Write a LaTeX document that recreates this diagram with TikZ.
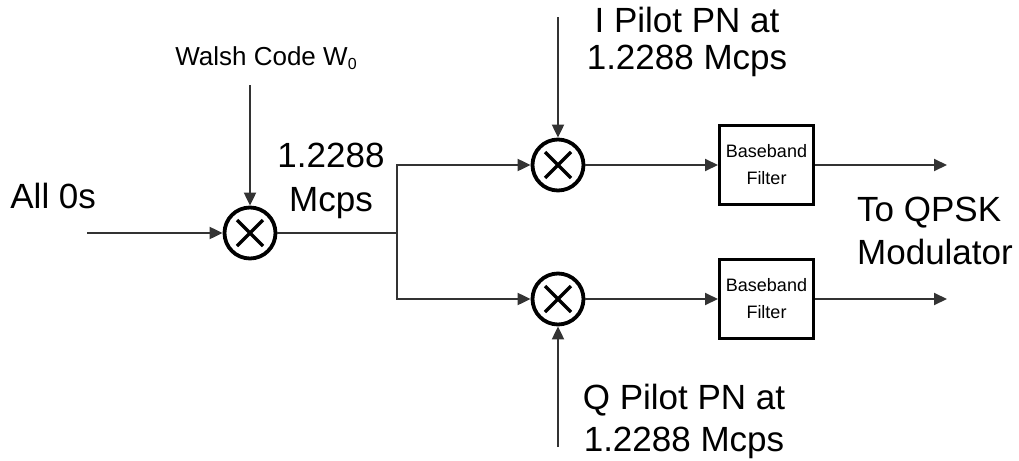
\documentclass[tikz,border=0pt]{standalone}
\usepackage{fontspec}
\setmainfont{Liberation Sans}
\usetikzlibrary{arrows.meta}

\begin{document}
\begin{tikzpicture}[
  x=0.5pt, y=-0.5pt,
  mix/.style={draw, circle, line width=1.9pt, minimum size=25.5pt, inner sep=0pt,
    path picture={\draw[line width=1.7pt]
      ([shift={(-6.5pt,-6.5pt)}]path picture bounding box.center) -- ([shift={(6.5pt,6.5pt)}]path picture bounding box.center)
      ([shift={(-6.5pt,6.5pt)}]path picture bounding box.center) -- ([shift={(6.5pt,-6.5pt)}]path picture bounding box.center);}},
  filt/.style={draw, line width=1.5pt, minimum width=47pt, minimum height=39.5pt, inner sep=0pt,
    align=center, font=\fontsize{9}{13.5}\selectfont},
  lbl/.style={inner sep=0pt, font=\fontsize{17.5}{22}\selectfont},
  arrow/.style={-{Triangle[length=6.5pt, width=6pt]}, line width=1pt, black!80}
]
\useasboundingbox (0,0) rectangle (1019,461);

% mixers and filters
\node[mix] (m1) at (250,233) {};
\node[mix] (m2) at (558,165) {};
\node[mix] (m3) at (558,299) {};
\node[filt] (f1) at (766.5,165) {Baseband\\Filter};
\node[filt] (f2) at (766.5,299) {Baseband\\Filter};

% labels
\node[lbl, anchor=base west] (all0) at (10,208) {All 0s};
\node[inner sep=0pt, font=\fontsize{13}{15}\selectfont, anchor=base] (walsh) at (266,65) {Walsh Code W\raisebox{-2pt}{\fontsize{8}{9}\selectfont 0}};
\node[lbl, align=center] (rate) at (331,181) {1.2288\\Mcps};
\node[lbl, align=center, font=\fontsize{17.5}{18.5}\selectfont] (ipn) at (687,42) {I Pilot PN at\\1.2288 Mcps};
\node[lbl, align=center, font=\fontsize{17.5}{21}\selectfont] (qpn) at (684,421) {Q Pilot PN at\\1.2288 Mcps};
\node[lbl, align=left, font=\fontsize{17.5}{21.5}\selectfont] (qpsk) at (935,231) {To QPSK\\Modulator};

% free ends
\coordinate (in) at (87,233);
\coordinate (wtop) at (250,85);
\coordinate (split) at (397,233);
\coordinate (itop) at (558,17);
\coordinate (qbot) at (558,447);
\coordinate (out1) at (947,165);
\coordinate (out2) at (947,299);

\draw[arrow] (in) -- (m1);
\draw[arrow] (wtop) -- (m1);
\draw[arrow] (m1) -- (split) |- (m2);
\draw[arrow] (split) |- (m3);
\draw[arrow] (itop) -- (m2);
\draw[arrow] (qbot) -- (m3);
\draw[arrow] (m2) -- (f1);
\draw[arrow] (m3) -- (f2);
\draw[arrow] (f1) -- (out1);
\draw[arrow] (f2) -- (out2);
\end{tikzpicture}
\end{document}
